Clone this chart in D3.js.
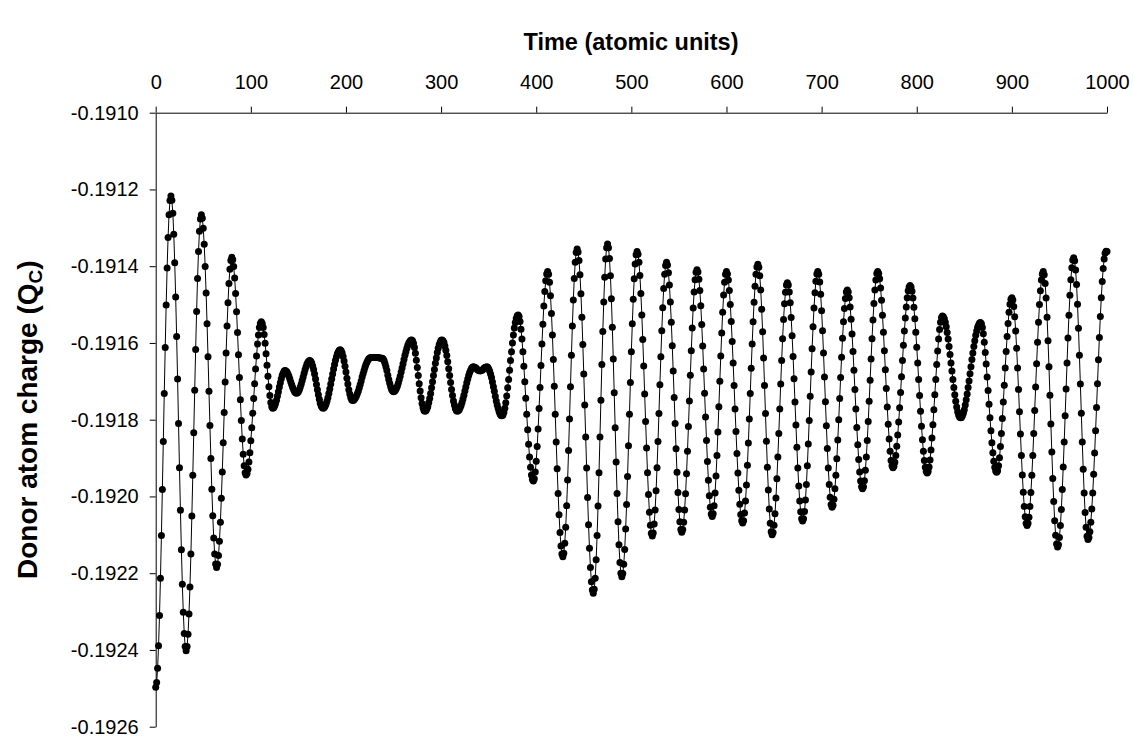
<!DOCTYPE html>
<html><head><meta charset="utf-8">
<script src="https://cdnjs.cloudflare.com/ajax/libs/d3/7.8.5/d3.min.js"></script>
<style>body{margin:0;background:#fff}svg{display:block}text{font-family:"Liberation Sans",Arial,sans-serif}</style>
</head><body><svg id="c" width="1133" height="738"></svg>
<script>
const xTicks = [0,100,200,300,400,500,600,700,800,900,1000];
const yTicks = [-0.1910,-0.1912,-0.1914,-0.1916,-0.1918,-0.1920,-0.1922,-0.1924,-0.1926];
const timeStep = 1;
// t = 0 .. 122
const chargeA = [
-0.192497,-0.192485,-0.192448,-0.192389,-0.192310,-0.192213,-0.192102,-0.191982,-0.191857,-0.191732,-0.191612,-0.191501,-0.191405,-0.191325,-0.191266,-0.191229,
-0.191217,-0.191228,-0.191262,-0.191317,-0.191391,-0.191480,-0.191583,-0.191694,-0.191810,-0.191925,-0.192036,-0.192139,-0.192229,-0.192302,-0.192357,-0.192391,
-0.192402,-0.192391,-0.192359,-0.192306,-0.192236,-0.192150,-0.192051,-0.191945,-0.191834,-0.191723,-0.191617,-0.191518,-0.191432,-0.191362,-0.191309,-0.191277,
-0.191266,-0.191275,-0.191301,-0.191343,-0.191401,-0.191470,-0.191550,-0.191636,-0.191726,-0.191815,-0.191901,-0.191981,-0.192050,-0.192108,-0.192150,-0.192176,
-0.192185,-0.192177,-0.192154,-0.192117,-0.192067,-0.192005,-0.191936,-0.191860,-0.191781,-0.191702,-0.191626,-0.191556,-0.191495,-0.191445,-0.191408,-0.191385,
-0.191377,-0.191383,-0.191401,-0.191431,-0.191471,-0.191519,-0.191573,-0.191631,-0.191690,-0.191748,-0.191802,-0.191850,-0.191890,-0.191920,-0.191938,
-0.191944,-0.191940,-0.191929,-0.191910,-0.191886,-0.191855,-0.191821,-0.191783,-0.191745,-0.191706,-0.191668,-0.191634,-0.191603,-0.191579,-0.191560,-0.191549,
-0.191545,-0.191549,-0.191560,-0.191578,-0.191601,-0.191628,-0.191658,-0.191687,-0.191714,-0.191737,-0.191755,-0.191766
];
// t = 123 .. 225
const chargeB = [
-0.191770,-0.191769,-0.191764,-0.191758,-0.191749,-0.191738,-0.191727,-0.191715,-0.191704,-0.191693,-0.191684,-0.191678,-0.191673,
-0.191672,-0.191673,-0.191676,-0.191681,-0.191687,-0.191694,-0.191702,-0.191709,-0.191716,-0.191722,-0.191727,-0.191730,
-0.191731,-0.191730,-0.191727,-0.191722,-0.191715,-0.191707,-0.191698,-0.191689,-0.191679,-0.191670,-0.191662,-0.191655,-0.191650,-0.191647,
-0.191646,-0.191648,-0.191652,-0.191660,-0.191669,-0.191681,-0.191694,-0.191708,-0.191722,-0.191735,-0.191747,-0.191757,-0.191764,-0.191768,
-0.191770,-0.191769,-0.191765,-0.191760,-0.191752,-0.191743,-0.191732,-0.191720,-0.191707,-0.191694,-0.191681,-0.191668,-0.191656,-0.191645,-0.191636,-0.191628,-0.191623,-0.191619,
-0.191618,-0.191620,-0.191626,-0.191635,-0.191647,-0.191661,-0.191676,-0.191692,-0.191707,-0.191722,-0.191733,-0.191742,-0.191748,
-0.191750,-0.191749,-0.191747,-0.191743,-0.191738,-0.191732,-0.191725,-0.191717,-0.191708,-0.191699,-0.191689,-0.191680,-0.191672,-0.191663,-0.191656,-0.191650,-0.191645,-0.191641,-0.191639
];
// t = 226 .. 381
const chargeC = [
-0.191638,-0.191638,-0.191638,-0.191638,-0.191638,-0.191638,
-0.191638,-0.191638,-0.191638,-0.191639,-0.191639,-0.191640,
-0.191640,-0.191641,-0.191646,-0.191653,-0.191662,-0.191672,-0.191684,-0.191695,-0.191705,-0.191714,-0.191721,-0.191725,
-0.191727,-0.191726,-0.191723,-0.191719,-0.191713,-0.191705,-0.191696,-0.191687,-0.191676,-0.191665,-0.191654,-0.191643,-0.191632,-0.191623,-0.191614,-0.191606,-0.191600,-0.191596,-0.191593,
-0.191592,-0.191594,-0.191601,-0.191612,-0.191627,-0.191645,-0.191664,-0.191685,-0.191706,-0.191725,-0.191743,-0.191758,-0.191769,-0.191776,
-0.191778,-0.191777,-0.191772,-0.191766,-0.191756,-0.191745,-0.191732,-0.191717,-0.191701,-0.191685,-0.191669,-0.191653,-0.191639,-0.191625,-0.191614,-0.191605,-0.191598,-0.191593,
-0.191592,-0.191594,-0.191599,-0.191608,-0.191619,-0.191633,-0.191649,-0.191667,-0.191685,-0.191703,-0.191721,-0.191737,-0.191751,-0.191762,-0.191771,-0.191776,
-0.191778,-0.191777,-0.191774,-0.191769,-0.191763,-0.191755,-0.191746,-0.191736,-0.191725,-0.191715,-0.191704,-0.191694,-0.191685,-0.191677,-0.191671,-0.191666,-0.191663,
-0.191662,-0.191663,-0.191664,-0.191666,-0.191669,-0.191671,-0.191672,
-0.191673,-0.191672,-0.191671,-0.191669,-0.191666,-0.191664,-0.191663,
-0.191662,-0.191663,-0.191667,-0.191673,-0.191681,-0.191690,-0.191702,-0.191714,-0.191726,-0.191739,-0.191751,-0.191762,-0.191771,-0.191779,-0.191785,-0.191789,
-0.191790,-0.191788,-0.191781,-0.191770,-0.191756,-0.191738,-0.191717,-0.191695,-0.191671,-0.191646,-0.191623,-0.191600,-0.191579,-0.191561,-0.191547,-0.191536,-0.191529,-0.191527
];
// t = 382 .. 600
const chargeD = [
-0.191531,-0.191544,-0.191564,-0.191590,-0.191623,-0.191661,-0.191701,-0.191744,-0.191786,-0.191826,-0.191864,-0.191897,-0.191924,-0.191944,-0.191956,-0.191960,
-0.191954,-0.191936,-0.191908,-0.191870,-0.191824,-0.191771,-0.191716,-0.191659,-0.191603,-0.191551,-0.191504,-0.191466,-0.191438,-0.191420,-0.191414,
-0.191421,-0.191442,-0.191477,-0.191523,-0.191579,-0.191643,-0.191713,-0.191786,-0.191858,-0.191928,-0.191992,-0.192048,-0.192094,-0.192129,-0.192150,-0.192157,
-0.192148,-0.192122,-0.192080,-0.192024,-0.191957,-0.191880,-0.191798,-0.191714,-0.191632,-0.191556,-0.191488,-0.191432,-0.191390,-0.191364,-0.191355,
-0.191363,-0.191385,-0.191422,-0.191472,-0.191533,-0.191604,-0.191681,-0.191762,-0.191845,-0.191926,-0.192003,-0.192074,-0.192135,-0.192185,-0.192222,-0.192244,-0.192252,
-0.192242,-0.192213,-0.192165,-0.192102,-0.192025,-0.191938,-0.191845,-0.191749,-0.191656,-0.191570,-0.191493,-0.191429,-0.191381,-0.191352,-0.191342,
-0.191352,-0.191380,-0.191425,-0.191485,-0.191559,-0.191642,-0.191730,-0.191821,-0.191910,-0.191992,-0.192066,-0.192126,-0.192172,-0.192200,-0.192209,
-0.192201,-0.192177,-0.192138,-0.192085,-0.192021,-0.191948,-0.191868,-0.191786,-0.191703,-0.191623,-0.191550,-0.191486,-0.191433,-0.191394,-0.191370,-0.191362,
-0.191369,-0.191390,-0.191424,-0.191471,-0.191527,-0.191591,-0.191660,-0.191733,-0.191805,-0.191874,-0.191938,-0.191995,-0.192041,-0.192075,-0.192096,-0.192103,
-0.192095,-0.192072,-0.192035,-0.191985,-0.191925,-0.191857,-0.191784,-0.191709,-0.191636,-0.191568,-0.191508,-0.191458,-0.191421,-0.191398,-0.191390,
-0.191397,-0.191417,-0.191449,-0.191493,-0.191546,-0.191607,-0.191673,-0.191742,-0.191810,-0.191876,-0.191937,-0.191990,-0.192034,-0.192066,-0.192086,-0.192093,
-0.192086,-0.192067,-0.192035,-0.191993,-0.191941,-0.191882,-0.191818,-0.191751,-0.191684,-0.191620,-0.191561,-0.191509,-0.191467,-0.191435,-0.191416,-0.191409,
-0.191415,-0.191434,-0.191463,-0.191503,-0.191552,-0.191608,-0.191668,-0.191731,-0.191793,-0.191854,-0.191909,-0.191958,-0.191998,-0.192028,-0.192046,-0.192052,
-0.192045,-0.192024,-0.191991,-0.191947,-0.191893,-0.191832,-0.191766,-0.191700,-0.191634,-0.191574,-0.191520,-0.191475,-0.191442,-0.191421,-0.191414
];
// t = 601 .. 800
const chargeE = [
-0.191420,-0.191436,-0.191463,-0.191500,-0.191544,-0.191596,-0.191652,-0.191711,-0.191772,-0.191831,-0.191888,-0.191939,-0.191984,-0.192020,-0.192047,-0.192063,-0.192069,
-0.192063,-0.192043,-0.192012,-0.191970,-0.191919,-0.191861,-0.191798,-0.191732,-0.191666,-0.191603,-0.191545,-0.191494,-0.191452,-0.191421,-0.191402,-0.191395,
-0.191403,-0.191425,-0.191462,-0.191512,-0.191571,-0.191639,-0.191711,-0.191784,-0.191856,-0.191924,-0.191983,-0.192033,-0.192070,-0.192092,-0.192100,
-0.192094,-0.192075,-0.192045,-0.192004,-0.191954,-0.191897,-0.191836,-0.191772,-0.191707,-0.191646,-0.191589,-0.191539,-0.191498,-0.191468,-0.191449,-0.191443,
-0.191449,-0.191467,-0.191495,-0.191534,-0.191581,-0.191635,-0.191693,-0.191754,-0.191814,-0.191872,-0.191926,-0.191973,-0.192012,-0.192040,-0.192058,-0.192064,
-0.192058,-0.192039,-0.192009,-0.191969,-0.191920,-0.191863,-0.191802,-0.191739,-0.191676,-0.191615,-0.191558,-0.191509,-0.191469,-0.191439,-0.191420,-0.191414,
-0.191421,-0.191441,-0.191473,-0.191516,-0.191568,-0.191626,-0.191689,-0.191753,-0.191816,-0.191875,-0.191926,-0.191969,-0.192002,-0.192021,-0.192028,
-0.192023,-0.192007,-0.191980,-0.191945,-0.191902,-0.191853,-0.191800,-0.191745,-0.191690,-0.191637,-0.191588,-0.191545,-0.191510,-0.191484,-0.191467,-0.191462,
-0.191467,-0.191482,-0.191506,-0.191538,-0.191577,-0.191622,-0.191671,-0.191721,-0.191772,-0.191820,-0.191865,-0.191904,-0.191936,-0.191960,-0.191975,-0.191980,
-0.191975,-0.191959,-0.191932,-0.191897,-0.191854,-0.191805,-0.191752,-0.191697,-0.191642,-0.191589,-0.191540,-0.191497,-0.191462,-0.191436,-0.191419,-0.191414,
-0.191419,-0.191433,-0.191457,-0.191489,-0.191528,-0.191572,-0.191620,-0.191670,-0.191719,-0.191767,-0.191812,-0.191850,-0.191882,-0.191906,-0.191920,-0.191925,
-0.191921,-0.191911,-0.191893,-0.191869,-0.191840,-0.191806,-0.191769,-0.191729,-0.191688,-0.191646,-0.191606,-0.191569,-0.191535,-0.191506,-0.191482,-0.191464,-0.191454,-0.191450,
-0.191454,-0.191465,-0.191483,-0.191507,-0.191537,-0.191572,-0.191611
];
// t = 801 .. 1000
const chargeF = [
-0.191652,-0.191695,-0.191737,-0.191778,-0.191817,-0.191852,-0.191882,-0.191906,-0.191924,-0.191935,-0.191939,
-0.191935,-0.191923,-0.191905,-0.191879,-0.191848,-0.191813,-0.191774,-0.191735,-0.191695,-0.191656,-0.191621,-0.191590,-0.191565,-0.191546,-0.191534,-0.191530,
-0.191532,-0.191537,-0.191546,-0.191558,-0.191573,-0.191590,-0.191609,-0.191630,-0.191652,-0.191673,-0.191695,-0.191716,-0.191735,-0.191752,-0.191767,-0.191779,-0.191788,-0.191793,-0.191795,
-0.191794,-0.191790,-0.191783,-0.191774,-0.191762,-0.191748,-0.191733,-0.191716,-0.191699,-0.191680,-0.191662,-0.191643,-0.191626,-0.191609,-0.191594,-0.191580,-0.191569,-0.191559,-0.191553,-0.191548,-0.191547,
-0.191550,-0.191560,-0.191576,-0.191598,-0.191625,-0.191655,-0.191689,-0.191724,-0.191760,-0.191795,-0.191829,-0.191860,-0.191886,-0.191908,-0.191924,-0.191934,-0.191937,
-0.191933,-0.191920,-0.191899,-0.191870,-0.191836,-0.191797,-0.191754,-0.191710,-0.191665,-0.191622,-0.191583,-0.191549,-0.191520,-0.191499,-0.191486,-0.191482,
-0.191488,-0.191505,-0.191532,-0.191569,-0.191614,-0.191665,-0.191721,-0.191779,-0.191837,-0.191893,-0.191944,-0.191989,-0.192026,-0.192053,-0.192070,-0.192076,
-0.192070,-0.192054,-0.192026,-0.191990,-0.191945,-0.191893,-0.191836,-0.191776,-0.191715,-0.191654,-0.191598,-0.191546,-0.191500,-0.191464,-0.191436,-0.191420,-0.191414,
-0.191422,-0.191445,-0.191483,-0.191533,-0.191594,-0.191662,-0.191736,-0.191811,-0.191884,-0.191953,-0.192013,-0.192063,-0.192101,-0.192124,-0.192132,
-0.192126,-0.192107,-0.192076,-0.192034,-0.191982,-0.191923,-0.191858,-0.191790,-0.191720,-0.191652,-0.191587,-0.191528,-0.191476,-0.191435,-0.191404,-0.191384,-0.191378,
-0.191386,-0.191410,-0.191448,-0.191499,-0.191562,-0.191632,-0.191707,-0.191783,-0.191858,-0.191929,-0.191991,-0.192042,-0.192080,-0.192104,-0.192112,
-0.192107,-0.192092,-0.192067,-0.192033,-0.191991,-0.191942,-0.191887,-0.191829,-0.191768,-0.191706,-0.191644,-0.191586,-0.191531,-0.191482,-0.191440,-0.191406,-0.191381,-0.191366,-0.191361,
-0.191362
];
const charge = [].concat(chargeA, chargeB, chargeC, chargeD, chargeE, chargeF);
const data = charge.map((v,i)=>({t:i*timeStep, v}));

const svg = d3.select("#c");
const x = d3.scaleLinear().domain([0,1000]).range([155.7,1107]);
const y = d3.scaleLinear().domain([-0.1926,-0.1910]).range([726.7,112.7]);

const xa = svg.append("g").attr("transform",`translate(0,${y(-0.1910)})`)
  .call(d3.axisTop(x).tickValues(xTicks).tickFormat(d3.format("d")).tickSize(6).tickSizeOuter(0).tickPadding(18));
const ya = svg.append("g").attr("transform",`translate(${x(0)},0)`)
  .call(d3.axisLeft(y).tickValues(yTicks).tickFormat(d=>d.toFixed(4)).tickSize(6).tickSizeOuter(0).tickPadding(11));
[xa,ya].forEach(g=>{g.selectAll("path,line").attr("stroke","#000").attr("stroke-width",1);
  g.selectAll("text").attr("font-size",20).attr("fill","#000").style("font-family","'Liberation Sans',Arial,sans-serif");});

svg.append("text").attr("x",631).attr("y",50).attr("text-anchor","middle")
  .attr("font-size",23.5).attr("font-weight","bold").text("Time (atomic units)");
const yt = svg.append("text").attr("transform",`translate(37,${(y(-0.1910)+y(-0.1926))/2}) rotate(-90)`)
  .attr("text-anchor","middle").attr("font-size",28).attr("font-weight","bold");
yt.append("tspan").text("Donor atom charge (Q");
yt.append("tspan").attr("font-size",19).attr("dy",5).text("C");
yt.append("tspan").attr("dy",-5).text(")");

const line = d3.line().x(d=>x(d.t)).y(d=>y(d.v));
svg.append("path").datum(data).attr("d",line).attr("fill","none").attr("stroke","#000").attr("stroke-width",1);
svg.append("g").selectAll("circle").data(data).join("circle")
  .attr("cx",d=>x(d.t)).attr("cy",d=>y(d.v)).attr("r",3.5).attr("fill","#000");
</script></body></html>
